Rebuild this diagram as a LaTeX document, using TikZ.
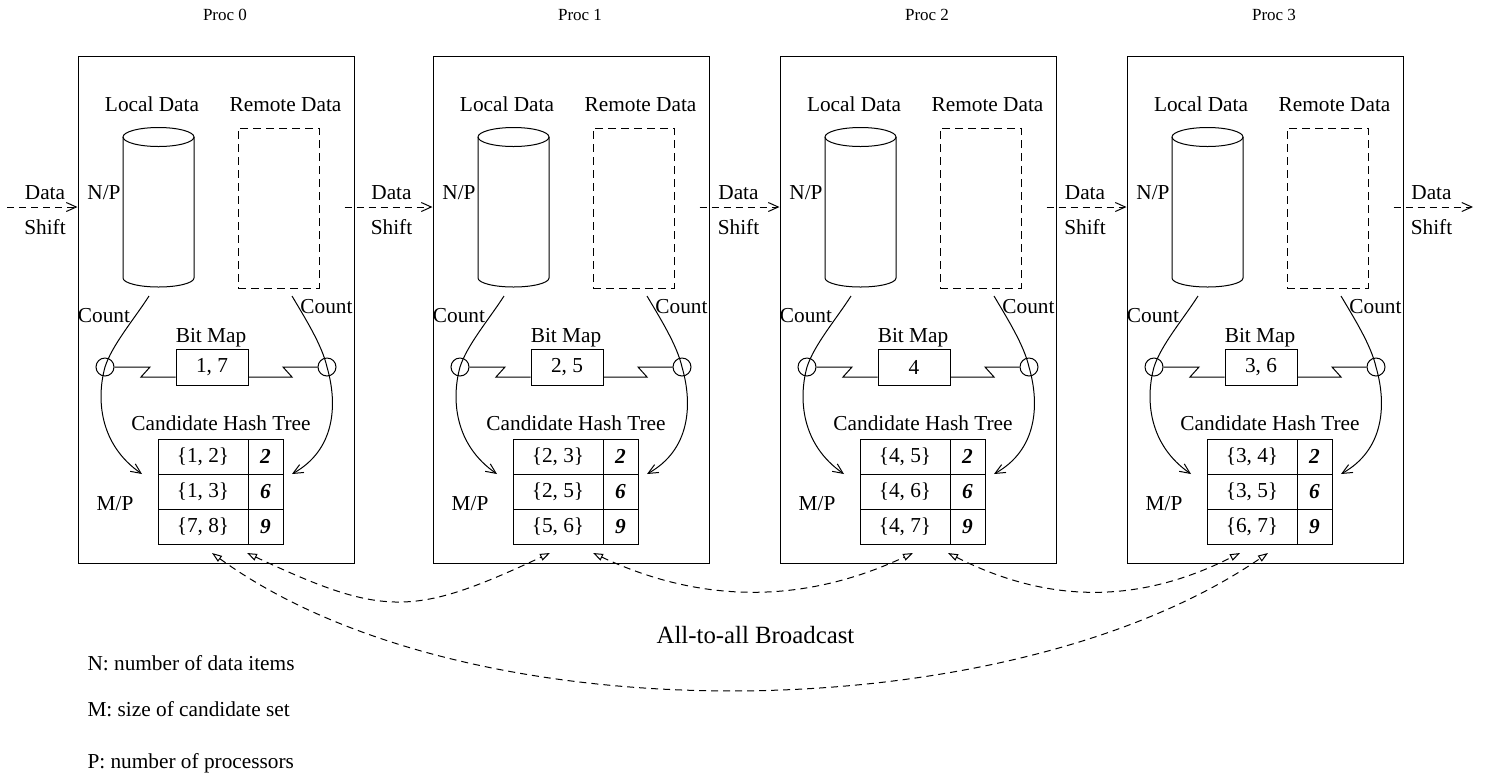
\documentclass[tikz,border=0pt]{standalone}
\usepackage{fontspec}
\setmainfont{Liberation Serif}
\usetikzlibrary{arrows.meta,calc}

\tikzset{
  procbox/.style={draw, minimum width=138pt, minimum height=253.5pt, inner sep=0},
  remotebox/.style={draw, dash pattern=on 4pt off 2.5pt, minimum width=40.5pt, minimum height=80pt, inner sep=0},
  port/.style={draw, circle, minimum size=9pt, inner sep=0},
  bitbox/.style={draw, minimum width=36pt, minimum height=18pt, inner sep=0},
  keycell/.style={draw, minimum width=45pt, minimum height=17.5pt, inner sep=0},
  cntcell/.style={draw, minimum width=17.5pt, minimum height=17.5pt, inner sep=0},
  lbl/.style={inner sep=0, anchor=base},
  proclbl/.style={inner sep=0, anchor=base, font=\fontsize{8.5}{10}\selectfont},
  countarrow/.style={-{Straight Barb[length=5pt,width=4.5pt]}},
  shiftarrow/.style={dash pattern=on 3.5pt off 2.5pt, -{Straight Barb[length=5pt,width=4.5pt]}},
  bcast/.style={dash pattern=on 3.5pt off 2.5pt, {Triangle[open,length=5pt,width=3.5pt]}-{Triangle[open,length=5pt,width=3.5pt]}},
}

% one processor: #1 index, #2 left edge, #3 bit map, #4-#6 candidate itemsets
\newcommand\procunit[6]{%
\begin{scope}[shift={(#2,0)}]
  \node[procbox] (box#1) at (138,309.5) {};
  \node[proclbl] (proc#1) at (147,20) {Proc #1};
  \node[lbl] (ld#1) at (74,111) {Local Data};
  \node[lbl] (rd#1) at (207.5,111) {Remote Data};
  % local data cylinder
  \draw (45,137) -- (45,278) arc[start angle=180,end angle=360,x radius=17.75pt,y radius=4.5pt] -- (116,137);
  \draw (80.5,137) ellipse[x radius=17.75pt,y radius=4.75pt];
  \node[inner sep=0,minimum width=35.5pt,minimum height=80pt] (cyl#1) at (80.5,207) {};
  \node[remotebox] (rem#1) at (200.5,208) {};
  \node[lbl] (np#1) at (26,199) {N/P};
  % count flows through the bit map ports
  \node[port] (pl#1) at (27,367) {};
  \node[port] (pr#1) at (249,367) {};
  \node[lbl] (bml#1) at (133,342) {Bit Map};
  \node[bitbox] (bm#1) at (134,367) {#3};
  \coordinate (cl#1) at (71,296);
  \coordinate (cr#1) at (214,296);
  \coordinate (tl#1) at (64,474);
  \coordinate (tr#1) at (214,474);
  \draw[countarrow] (cl#1) .. controls (57,318) and (34,345) .. (pl#1.center)
        .. controls (18,400) and (22,445) .. (tl#1);
  \draw[countarrow] (cr#1) .. controls (227,318) and (244,345) .. (pr#1.center)
        .. controls (260,405) and (257,450) .. (tr#1);
  \node[lbl] (cntl#1) at (26,322) {Count};
  \node[lbl] (cntr#1) at (248.5,313) {Count};
  \draw (pl#1.east) -- (72,367) -- (63,377) -- ($(bm#1.west)+(0,10)$);
  \draw ($(bm#1.east)+(0,10)$) -- (214,377) -- (205,367) -- (pr#1.west);
  % candidate hash tree
  \node[lbl] (cht#1) at (143,430) {Candidate Hash Tree};
  \node[keycell] (ka#1) at (125,456.5) {\{#4\}};
  \node[cntcell] (na#1) at (187.5,456.5) {\textbf{\textit{2}}};
  \node[keycell] (kb#1) at (125,491.5) {\{#5\}};
  \node[cntcell] (nb#1) at (187.5,491.5) {\textbf{\textit{6}}};
  \node[keycell] (kc#1) at (125,526.5) {\{#6\}};
  \node[cntcell] (nc#1) at (187.5,526.5) {\textbf{\textit{9}}};
  \node[lbl] (mp#1) at (37,510) {M/P};
\end{scope}}

\begin{document}
\begin{tikzpicture}[x=0.5pt,y=-0.5pt,line width=0.5pt,font=\fontsize{10.65}{12.8}\selectfont]
  \useasboundingbox (0,0) rectangle (1494,778);

  \procunit{0}{78}{1, 7}{1, 2}{1, 3}{7, 8}
  \procunit{1}{433}{2, 5}{2, 3}{2, 5}{5, 6}
  \procunit{2}{780}{4}{4, 5}{4, 6}{4, 7}
  \procunit{3}{1127}{3, 6}{3, 4}{3, 5}{6, 7}

  % data shift between neighbours
  \coordinate (dsin) at (7,207);
  \coordinate (dsout) at (1473,207);
  \draw[shiftarrow] (dsin) -- (box0.west |- dsin);
  \draw[shiftarrow] ($(box0.east |- dsin)+(-10,0)$) -- (box1.west |- dsin);
  \draw[shiftarrow] ($(box1.east |- dsin)+(-10,0)$) -- (box2.west |- dsin);
  \draw[shiftarrow] ($(box2.east |- dsin)+(-10,0)$) -- (box3.west |- dsin);
  \draw[shiftarrow] ($(box3.east |- dsin)+(-10,0)$) -- (dsout);
  \foreach \i/\x in {a/45, b/391.5, c/738.5, d/1085, e/1431.5}{
    \node[lbl] (data\i) at (\x,199) {Data};
    \node[lbl] (shift\i) at (\x,234) {Shift};
  }

  % all-to-all broadcast
  \coordinate (ba0) at (212,553);  \coordinate (bb0) at (247,553);
  \coordinate (ba1) at (550,553);  \coordinate (bb1) at (593,553);
  \coordinate (ba2) at (913,553);  \coordinate (bb2) at (948,553);
  \coordinate (ba3) at (1240,553); \coordinate (bb3) at (1268,553);
  \draw[bcast] (bb0) .. controls (384,617) and (413,617) .. (ba1);
  \draw[bcast] (bb1) .. controls (702,604) and (804,604) .. (ba2);
  \draw[bcast] (bb2) .. controls (1049,604) and (1139,604) .. (ba3);
  \draw[bcast] (ba0) .. controls (470,740) and (1010,730) .. (bb3);
  \node[lbl,font=\fontsize{12.4}{15}\selectfont] (a2a) at (755.5,643) {All-to-all Broadcast};

  % legend
  \node[lbl,anchor=base west] (legn) at (87,670) {N: number of data items};
  \node[lbl,anchor=base west] (legm) at (87,716) {M: size of candidate set};
  \node[lbl,anchor=base west] (legp) at (87,768) {P: number of processors};
\end{tikzpicture}
\end{document}
